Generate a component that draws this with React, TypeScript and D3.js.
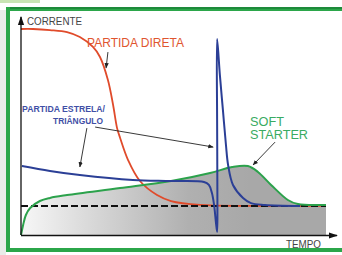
// @ts-nocheck
import React from 'react'
import * as d3 from 'd3'

// curves: [tempo, corrente] in 0..100 units
const direta = [
  [0, 100], [3.9, 100], [9.5, 99.5], [15.1, 98.5], [19.3, 96.1], [23.6, 91.3], [25.9, 86.4],
  [28.5, 75.2], [30.2, 63.1], [31.5, 51.9], [32.5, 47.1], [35.1, 36.4], [39, 26.2],
  [44.6, 19.4], [49.2, 16.5], [58.7, 14.6], [75.1, 14.1], [100, 14.1],
]

const soft = [
  [0, 0], [0.7, 4.9], [1.6, 9.7], [3, 13.1], [6.2, 16.5], [9.5, 18], [15.1, 19.4],
  [32.5, 22.8], [49.2, 26.2], [62, 30.1], [69.2, 33], [74.4, 33.5], [77.7, 30.6],
  [82, 24.3], [87.5, 17], [90.8, 15], [100, 14.6],
]

const estrela = [
  [0.3, 33.5], [9.5, 31.1], [19.3, 29.1], [36.7, 26.7], [49.2, 26.2], [60, 25.7],
  [61.6, 24.3], [62.6, 20.4], [63.3, 14.6], [63.9, 6.3], [64.3, 1.5], [64.4, 14.6],
  [64.3, 55.8], [64.3, 95.1], [65.2, 77.7], [66.2, 60.7], [67.2, 43.7], [67.9, 34],
  [69.5, 24.3], [72.8, 18], [75.4, 15.5], [80, 14.6], [91.5, 14.1],
]

const nominal = 14.1

// annotation arrows: [x1, y1, x2, y2]
const arrows = [
  [28.5, 88.8, 27.9, 81.1],
  [21.6, 51.9, 19.3, 33.0],
  [24.3, 52.4, 63, 42.7],
  [83.3, 45.1, 76.1, 34],
]

const W = 342
const H = 255

export default function App() {
  const x = d3.scaleLinear().domain([0, 100]).range([21, 326])
  const y = d3.scaleLinear().domain([0, 100]).range([235, 29])

  const line = d3
    .line()
    .x((d) => x(d[0]))
    .y((d) => y(d[1]))
    .curve(d3.curveCatmullRom.alpha(0.5))

  const area = d3
    .area()
    .x((d) => x(d[0]))
    .y0(y(0))
    .y1((d) => y(d[1]))
    .curve(d3.curveCatmullRom.alpha(0.5))

  const font = 'Liberation Sans, Arial, sans-serif'

  return (
    <svg width={W} height={H} style={{ position: 'absolute', left: 0, top: 0, background: '#fff' }}>
      <defs>
        <linearGradient id="fillGrad" x1="0" x2="1" y1="0" y2="0">
          <stop offset="0" stopColor="#f7f7f7" />
          <stop offset="0.2" stopColor="#dcdcdc" />
          <stop offset="0.55" stopColor="#b0b0b0" />
          <stop offset="0.75" stopColor="#a8a8a8" />
          <stop offset="1" stopColor="#a8a8a8" />
        </linearGradient>
        <marker id="ah" viewBox="0 0 10 10" refX="9" refY="5" markerWidth="6" markerHeight="6" orient="auto">
          <path d="M0,1 L10,5 L0,9 z" fill="#222" />
        </marker>
        <marker id="axh" viewBox="0 0 10 10" refX="9" refY="5" markerWidth="7" markerHeight="7" orient="auto">
          <path d="M0,1.5 L10,5 L0,8.5 z" fill="#111" />
        </marker>
      </defs>

      {/* frame */}
      <rect x={0} y={10} width={6} height={245} fill="#e9ece9" />
      <rect x={0} y={0} width={40} height={3} fill="#c9e5b5" />
      <rect x={8} y={9} width={340} height={241} fill="#fff" stroke="#2ba64a" strokeWidth={4} />
      <line x1={10} x2={342} y1={8} y2={8} stroke="#1d8a3a" strokeWidth={2} />

      {/* filled soft starter area */}
      <path d={area(soft)} fill="url(#fillGrad)" />

      {/* red: partida direta */}
      <path d={line(direta)} fill="none" stroke="#e04b2b" strokeWidth={1.8} />

      {/* nominal dashed */}
      <line
        x1={x(0)}
        x2={x(100)}
        y1={y(nominal)}
        y2={y(nominal)}
        stroke="#111"
        strokeWidth={2}
        strokeDasharray="7,3"
      />

      {/* green soft starter */}
      <path d={line(soft)} fill="none" stroke="#2ca24c" strokeWidth={2} />

      {/* blue estrela-triangulo */}
      <path d={line(estrela)} fill="none" stroke="#2b3f96" strokeWidth={2} />

      {/* axes */}
      <line x1={x(0)} x2={x(0)} y1={y(0)} y2={17} stroke="#111" strokeWidth={1.3} markerEnd="url(#axh)" />
      <line x1={x(0)} x2={337} y1={y(0) + 0.5} y2={y(0) + 0.5} stroke="#111" strokeWidth={1.3} markerEnd="url(#axh)" />

      {/* arrows */}
      {arrows.map((a, i) => (
        <line key={i} x1={x(a[0])} y1={y(a[1])} x2={x(a[2])} y2={y(a[3])} stroke="#222" strokeWidth={0.9} markerEnd="url(#ah)" />
      ))}

      {/* labels */}
      <text x={27} y={25} fontFamily={font} fontSize={10} fill="#444" textLength={55} lengthAdjust="spacingAndGlyphs">
        CORRENTE
      </text>
      <text x={286} y={248} fontFamily={font} fontSize={10} fill="#444" textLength={35} lengthAdjust="spacingAndGlyphs">
        TEMPO
      </text>
      <text x={87} y={47} fontFamily={font} fontSize={12.5} fill="#e0552f" textLength={97} lengthAdjust="spacingAndGlyphs">
        PARTIDA DIRETA
      </text>
      <text x={22} y={112} fontFamily={font} fontSize={9.5} fontWeight={600} fill="#3f4fa6" textLength={83} lengthAdjust="spacingAndGlyphs">
        PARTIDA ESTRELA/
      </text>
      <text x={53} y={124} fontFamily={font} fontSize={9.5} fontWeight={600} fill="#3f4fa6" textLength={50} lengthAdjust="spacingAndGlyphs">
        TRIÂNGULO
      </text>
      <text x={250} y={126} fontFamily={font} fontSize={12.5} fill="#3aab62" textLength={34} lengthAdjust="spacingAndGlyphs">
        SOFT
      </text>
      <text x={250} y={139} fontFamily={font} fontSize={12.5} fill="#3aab62" textLength={58} lengthAdjust="spacingAndGlyphs">
        STARTER
      </text>
    </svg>
  )
}
